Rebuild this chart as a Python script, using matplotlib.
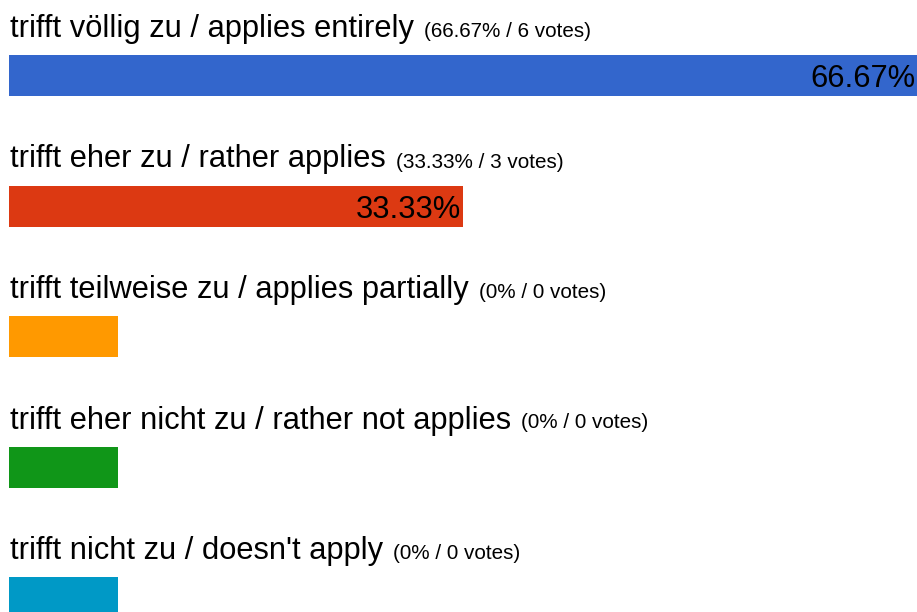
import matplotlib
matplotlib.use("Agg")
import matplotlib.pyplot as plt

labels = [
    "trifft völlig zu / applies entirely",
    "trifft eher zu / rather applies",
    "trifft teilweise zu / applies partially",
    "trifft eher nicht zu / rather not applies",
    "trifft nicht zu / doesn't apply",
]
percents = [66.67, 33.33, 0, 0, 0]
votes = [6, 3, 0, 0, 0]
colors = ["#3366CC", "#DC3912", "#FF9900", "#109618", "#0099C6"]

plt.rcParams["font.family"] = ["Liberation Sans", "DejaVu Sans"]

W, H = 917, 612
fig = plt.figure(figsize=(W / 100, H / 100), dpi=100)
left_px = 9
ax = fig.add_axes([left_px / W, 0, (W - left_px) / W, 1])
ax.set_axis_off()

vmax = max(percents)
ax.set_xlim(0, vmax)
row_px = 130.5
first_center_px = 75.5
ax.set_ylim((H - first_center_px) / row_px, -first_center_px / row_px)

bar_h = 41 / row_px
min_w = vmax * 109 / (W - left_px)
disp = [p if p > 0 else min_w for p in percents]
n = len(labels)
ax.barh(range(n), disp, height=bar_h, color=colors, linewidth=0)

label_off = 38.5 / row_px
fig.canvas.draw()
renderer = fig.canvas.get_renderer()
for i in range(n):
    t = ax.text(vmax * 1 / (W - left_px), i - label_off, labels[i],
                fontsize=22.2, va="baseline", ha="left", color="black")
    bb = t.get_window_extent(renderer=renderer)
    x_ax = ax.transData.inverted().transform((bb.x1 + 10, 0))[0]
    pct = f"{percents[i]:g}%" if percents[i] else "0%"
    ax.text(x_ax, i - label_off, f"({pct} / {votes[i]} votes)",
            fontsize=14.9, va="baseline", ha="left", color="black")
    if percents[i] > 0:
        x_in = ax.transData.inverted().transform(
            (ax.transData.transform((disp[i], 0))[0] - 2, 0))[0]
        ax.text(x_in, i, f"{percents[i]:.2f}%", fontsize=22.2,
                va="center_baseline", ha="right", color="black")

fig.savefig("out.png", dpi=100)
